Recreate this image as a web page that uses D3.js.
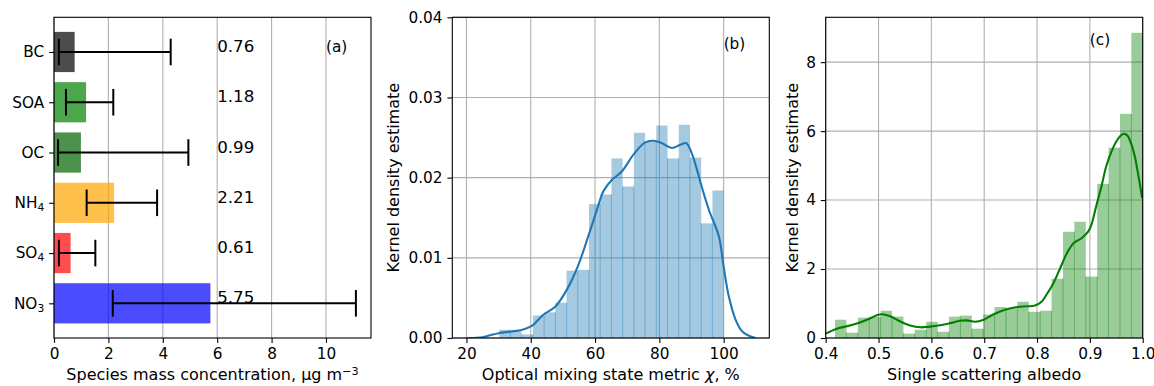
<!DOCTYPE html>
<html>
<head>
<meta charset="utf-8">
<script src="https://cdnjs.cloudflare.com/ajax/libs/d3/7.8.5/d3.min.js"></script>
<style>
  body { margin: 0; background: #fff; }
  svg { display: block; font-family: 'DejaVu Sans', sans-serif; }
</style>
</head>
<body>
<svg id="fig" width="1154" height="386"></svg>
<script>
// (a) species mass concentration, mean with low/high range
const species = ['BC', 'SOA', 'OC', 'NH4', 'SO4', 'NO3'];
const speciesMean = [0.76, 1.18, 0.99, 2.21, 0.61, 5.75];
const speciesLow = [0.18, 0.44, 0.15, 1.20, 0.18, 2.16];
const speciesHigh = [4.29, 2.18, 4.94, 3.79, 1.52, 11.10];
const massTicks = [0, 2, 4, 6, 8, 10];

// (b) optical mixing state metric chi (%)
const chiBinStart = 30.2;
const chiBinWidth = 3.49;
const chiHist = [0.00103, 0.00079, 0.00045, 0.0028, 0.0032, 0.0044, 0.0084, 0.0085, 0.0167, 0.0179,
                 0.0224, 0.0189, 0.0256, 0.0245, 0.0265, 0.0224, 0.0266, 0.0225, 0.0143, 0.0184];
const chiKdeX = [20.1, 25, 27, 30, 33.6, 37.2, 40.3, 43.9, 47.6, 51.2, 54.8, 57.9, 60.6, 62.6, 65.2, 68.4,
                 72.0, 75.6, 78.2, 80.8, 83.9, 86.5, 88.4, 90.2, 91.7, 93.3, 95.4, 98.5, 100.0, 101.6,
                 103.7, 105.8, 107.8, 109.9];
const chiKdeY = [0, 0.0001, 0.0003, 0.0006, 0.0008, 0.0010, 0.0015, 0.0029, 0.0039, 0.0060, 0.0091, 0.0127,
                 0.0160, 0.0183, 0.0197, 0.0208, 0.0229, 0.0244, 0.0246, 0.0243, 0.0237, 0.0241, 0.0243,
                 0.0229, 0.0210, 0.0187, 0.0160, 0.0127, 0.0089, 0.0052, 0.0023, 0.0008, 0.0003, 0];
const chiTicksX = [20, 40, 60, 80, 100];
const chiTicksY = [0, 0.01, 0.02, 0.03, 0.04];

// (c) single scattering albedo
const ssaBinStart = 0.4177;
const ssaBinWidth = 0.02157;
const ssaHist = [0.53, 0.155, 0.59, 0.61, 0.79, 0.62, 0.126, 0.24, 0.47, 0.18, 0.62, 0.65, 0.27, 0.68,
                 0.90, 0.86, 1.05, 0.76, 0.79, 1.72, 3.08, 3.37, 1.78, 4.47, 5.52, 6.50, 8.85];
const ssaKdeX = [0.400, 0.421, 0.440, 0.459, 0.478, 0.497, 0.506, 0.522, 0.541, 0.560, 0.579, 0.597,
                 0.616, 0.635, 0.654, 0.667, 0.683, 0.699, 0.717, 0.739, 0.762, 0.780, 0.796, 0.809,
                 0.818, 0.831, 0.844, 0.856, 0.869, 0.885, 0.897, 0.903, 0.912, 0.922, 0.931, 0.941,
                 0.950, 0.960, 0.966, 0.972, 0.979, 0.985, 0.991, 0.999];
const ssaKdeY = [0.126, 0.27, 0.34, 0.42, 0.53, 0.66, 0.69, 0.63, 0.48, 0.36, 0.31, 0.33,
                 0.37, 0.43, 0.50, 0.51, 0.47, 0.53, 0.68, 0.82, 0.90, 0.92, 0.94, 1.06,
                 1.26, 1.59, 2.03, 2.44, 2.75, 2.90, 3.09, 3.29, 3.82, 4.40, 4.98, 5.41,
                 5.70, 5.89, 5.92, 5.85, 5.60, 5.27, 4.78, 4.06];
const ssaTicksX = [0.4, 0.5, 0.6, 0.7, 0.8, 0.9, 1.0];
const ssaTicksY = [0, 2, 4, 6, 8];

const svg = d3.select('#fig');
const panelTop = 17.3, width = 317, height = 320.7;
const tickLen = 4.9, tickPad = 4.9, tickFont = 15.3, labelFont = 16;
const gridColor = '#b0b0b0';

function addPanel(left, id) {
    const g = svg.append('g').attr('transform', `translate(${left},${panelTop})`);
    svg.append('clipPath').attr('id', id)
        .append('rect').attr('width', width).attr('height', height);
    return g;
}

function styleAxis(ax) {
    ax.attr('font-family', 'DejaVu Sans').attr('font-size', tickFont);
    ax.select('.domain').remove();
    ax.selectAll('line').attr('stroke', 'black').attr('stroke-width', 1.1);
    ax.selectAll('text').attr('fill', 'black');
    return ax;
}

function xAxis(g, x, ticks, fmt) {
    return styleAxis(g.append('g')
        .attr('transform', `translate(0,${height})`)
        .call(d3.axisBottom(x).tickValues(ticks).tickFormat(fmt)
            .tickSizeInner(tickLen).tickSizeOuter(0).tickPadding(tickPad)));
}

function yAxis(g, y, ticks, fmt) {
    return styleAxis(g.append('g')
        .call(d3.axisLeft(y).tickValues(ticks).tickFormat(fmt)
            .tickSizeInner(tickLen).tickSizeOuter(0).tickPadding(tickPad)));
}

function vGrid(g, x, ticks) {
    g.append('g').selectAll('line').data(ticks).join('line')
        .attr('x1', d => x(d)).attr('x2', d => x(d))
        .attr('y1', 0).attr('y2', height)
        .attr('stroke', gridColor).attr('stroke-width', 1.1);
}

function hGrid(g, y, ticks) {
    g.append('g').selectAll('line').data(ticks).join('line')
        .attr('y1', d => y(d)).attr('y2', d => y(d))
        .attr('x1', 0).attr('x2', width)
        .attr('stroke', gridColor).attr('stroke-width', 1.1);
}

function frame(g) {
    g.append('rect')
        .attr('width', width).attr('height', height)
        .attr('fill', 'none').attr('stroke', 'black').attr('stroke-width', 1.1);
}

function xLabel(g) {
    return g.append('text')
        .attr('x', width / 2).attr('y', 380.5 - panelTop)
        .attr('text-anchor', 'middle')
        .attr('font-size', labelFont);
}

function yLabel(g, x, text) {
    g.append('text')
        .attr('transform', `translate(${x},${height / 2}) rotate(-90)`)
        .attr('text-anchor', 'middle')
        .attr('font-size', labelFont)
        .text(text);
}

function histogram(g, x, y, start, step, values, color, clipId) {
    const edges = d3.range(values.length + 1).map(i => start + i * step);
    const h = g.append('g').attr('clip-path', `url(#${clipId})`);
    h.selectAll('rect').data(values).join('rect')
        .attr('x', (d, i) => x(edges[i]))
        .attr('width', (d, i) => x(edges[i + 1]) - x(edges[i]))
        .attr('y', d => y(d))
        .attr('height', d => y(0) - y(d))
        .attr('fill', color).attr('fill-opacity', 0.4);
    // neighbouring bins overlap on their shared edge, which shows as a darker seam
    h.selectAll('line').data(d3.range(1, values.length)).join('line')
        .attr('x1', i => x(edges[i])).attr('x2', i => x(edges[i]))
        .attr('y1', y(0))
        .attr('y2', i => y(Math.min(values[i - 1], values[i])))
        .attr('stroke', color).attr('stroke-opacity', 0.4).attr('stroke-width', 1);
}

function kde(g, x, y, xs, ys, color, clipId) {
    const pts = xs.map((v, i) => [v, ys[i]]);
    g.append('path')
        .datum(pts)
        .attr('clip-path', `url(#${clipId})`)
        .attr('fill', 'none')
        .attr('stroke', color)
        .attr('stroke-width', 2.1)
        .attr('d', d3.line().x(d => x(d[0])).y(d => y(d[1])).curve(d3.curveCatmullRom.alpha(0.5)));
}

// ---------- (a) ----------
const pa = addPanel(54, 'clip-a');
const xa = d3.scaleLinear().domain([0, 11.655]).range([0, width]);
const ya = d3.scaleLinear().domain([-0.69, 5.69]).range([0, height]);
const speciesColor = {
    BC: 'black', SOA: 'green', OC: 'darkgreen',
    NH4: 'orange', SO4: 'red', NO3: 'blue'
};

vGrid(pa, xa, massTicks);

pa.append('g').selectAll('rect').data(species).join('rect')
    .attr('x', xa(0))
    .attr('y', (d, i) => ya(i - 0.4))
    .attr('width', (d, i) => xa(speciesMean[i]) - xa(0))
    .attr('height', ya(0.8) - ya(0))
    .attr('fill', d => speciesColor[d])
    .attr('fill-opacity', 0.7);

const cap = 13.3;
const err = pa.append('g').attr('stroke', 'black').attr('stroke-width', 2);
species.forEach((s, i) => {
    const cy = ya(i);
    err.append('line')
        .attr('x1', xa(speciesLow[i])).attr('x2', xa(speciesHigh[i]))
        .attr('y1', cy).attr('y2', cy);
    [speciesLow[i], speciesHigh[i]].forEach(v => {
        err.append('line')
            .attr('x1', xa(v)).attr('x2', xa(v))
            .attr('y1', cy - cap).attr('y2', cy + cap);
    });
});

pa.append('g').selectAll('text').data(speciesMean).join('text')
    .attr('x', xa(6))
    .attr('y', (d, i) => ya(i))
    .attr('font-size', 16.7)
    .text(d => d3.format('.2f')(d));

pa.append('text')
    .attr('x', xa(10)).attr('y', ya(0))
    .attr('font-size', 15.3)
    .text('(a)');

frame(pa);
xAxis(pa, xa, massTicks, d3.format('d'));
const yaxA = yAxis(pa, ya, d3.range(species.length), '');
yaxA.selectAll('.tick text').each(function (d) {
    const name = species[d];
    const m = name.match(/^([A-Z]+)(\d*)$/);
    const t = d3.select(this);
    t.append('tspan').text(m[1]);
    if (m[2]) t.append('tspan').attr('font-size', 10.7).attr('dy', 3).text(m[2]);
});

const xlA = xLabel(pa);
xlA.append('tspan').text('Species mass concentration, μg m');
xlA.append('tspan').attr('font-size', 11.2).attr('dy', -5.5).text('−3');

// ---------- (b) ----------
const pb = addPanel(452.3, 'clip-b');
const xb = d3.scaleLinear().domain([15.6, 114.2]).range([0, width]);
const yb = d3.scaleLinear().domain([0, 0.04]).range([height, 0]);

vGrid(pb, xb, chiTicksX);
hGrid(pb, yb, chiTicksY);
histogram(pb, xb, yb, chiBinStart, chiBinWidth, chiHist, '#1f77b4', 'clip-b');
kde(pb, xb, yb, chiKdeX, chiKdeY, '#1f77b4', 'clip-b');

pb.append('text')
    .attr('x', xb(100)).attr('y', yb(0.036))
    .attr('font-size', 15.3)
    .text('(b)');

frame(pb);
xAxis(pb, xb, chiTicksX, d3.format('d'));
yAxis(pb, yb, chiTicksY, d3.format('.2f'));

const xlB = xLabel(pb);
xlB.append('tspan').text('Optical mixing state metric ');
xlB.append('tspan').attr('font-style', 'italic').text('χ');
xlB.append('tspan').text(', %');
yLabel(pb, 398.5 - 452.3, 'Kernel density estimate');

// ---------- (c) ----------
const pc = addPanel(825.7, 'clip-c');
const xc = d3.scaleLinear().domain([0.4, 1.0]).range([0, width]);
const yc = d3.scaleLinear().domain([0, 9.3]).range([height, 0]);

vGrid(pc, xc, ssaTicksX);
hGrid(pc, yc, ssaTicksY);
histogram(pc, xc, yc, ssaBinStart, ssaBinWidth, ssaHist, 'green', 'clip-c');
kde(pc, xc, yc, ssaKdeX, ssaKdeY, 'green', 'clip-c');

pc.append('text')
    .attr('x', xc(0.9)).attr('y', yc(8.5))
    .attr('font-size', 15.3)
    .text('(c)');

frame(pc);
xAxis(pc, xc, ssaTicksX, d3.format('.1f'));
yAxis(pc, yc, ssaTicksY, d3.format('d'));

xLabel(pc).text('Single scattering albedo');
yLabel(pc, 797.8 - 825.7, 'Kernel density estimate');
</script>
</body>
</html>
